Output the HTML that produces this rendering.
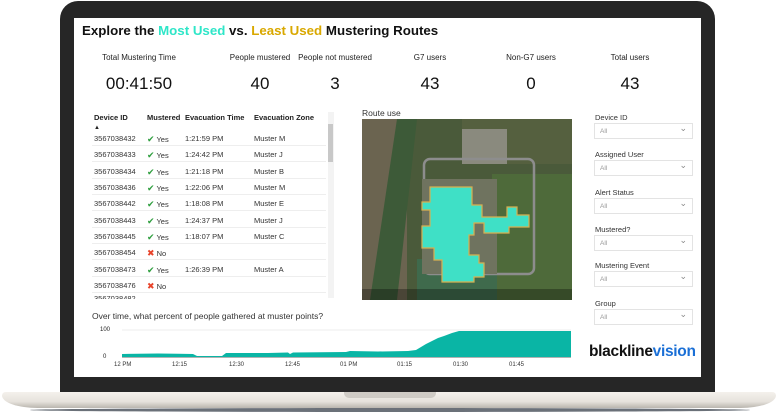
<!DOCTYPE html>
<html><head><meta charset="utf-8"><style>
*{margin:0;padding:0;box-sizing:border-box}
body{width:778px;height:419px;background:#fff;position:relative;overflow:hidden;font-family:"Liberation Sans","DejaVu Sans",sans-serif;color:#222}
.a{position:absolute}
.bez{left:60px;top:1px;width:655px;height:392px;background:#262626;border-radius:18px 18px 0 0}
.scr{left:74px;top:18px;width:627px;height:359px;background:#fff}
.base{left:2px;top:392px;width:774px;height:16px;background:linear-gradient(#f4f1ec,#e6e2dc 60%,#b9b5ae);border-radius:4px 4px 40px 40px/4px 4px 14px 14px}
.notch{left:344px;top:392px;width:92px;height:6px;background:#cfcbc5;border-radius:0 0 5px 5px}
.shadow{left:30px;top:408px;width:720px;height:4px;background:#2c3440;border-radius:50%;opacity:.7}
.t{font-size:13.3px;font-weight:bold;left:82px;top:23px;color:#111}
.kl{font-size:8px;color:#222;text-align:center;width:120px;top:53px}
.kv{font-size:17px;color:#111;text-align:center;width:120px;top:74px}
.tb{font-size:7.5px;color:#333}
.th{font-weight:bold;color:#222}
.row{position:absolute;left:92px;width:234px;height:16px;border-bottom:1px solid #eee}
.row span{position:absolute;top:4px}
.ck{color:#2e9e3e;font-weight:bold;font-size:9px}
.x{color:#e8432a;font-weight:bold;font-size:9px}
.sl{font-size:7.5px;color:#333;left:595px}
.sb{left:594px;width:99px;height:16px;border:1px solid #e3e3e3;font-size:6.5px;color:#999;padding:4px 0 0 5px}
.sb:after{content:"⌄";position:absolute;right:5px;top:-1px;font-size:9px;color:#888}
.xl{font-size:6px;color:#333;top:362px}
</style></head><body>
<div class="a shadow"></div>
<div class="a bez"></div>
<div class="a base"></div>
<div class="a notch"></div>
<div class="a scr"></div>
<div class="a t">Explore the <span style="color:#2ee6c8">Most Used</span> vs. <span style="color:#d9a800">Least Used</span> Mustering Routes</div>
<div class="a kl" style="left:79px">Total Mustering Time</div><div class="a kv" style="left:79px">00:41:50</div>
<div class="a kl" style="left:200px">People mustered</div><div class="a kv" style="left:200px">40</div>
<div class="a kl" style="left:275px">People not mustered</div><div class="a kv" style="left:275px">3</div>
<div class="a kl" style="left:370px">G7 users</div><div class="a kv" style="left:370px">43</div>
<div class="a kl" style="left:471px">Non-G7 users</div><div class="a kv" style="left:471px">0</div>
<div class="a kl" style="left:570px">Total users</div><div class="a kv" style="left:570px">43</div>

<div class="a tb th" style="left:94px;top:113px">Device ID<br><span style="font-size:6px">▲</span></div>
<div class="a tb th" style="left:147px;top:113px">Mustered</div>
<div class="a tb th" style="left:185px;top:113px">Evacuation Time</div>
<div class="a tb th" style="left:254px;top:113px">Evacuation Zone</div>
<div class="tb">
<div class="row" style="top:130px"><span style="left:2px">3567038432</span><span style="left:55px"><b class="ck">✔</b> Yes</span><span style="left:93px">1:21:59 PM</span><span style="left:162px">Muster M</span></div>
<div class="row" style="top:146px"><span style="left:2px">3567038433</span><span style="left:55px"><b class="ck">✔</b> Yes</span><span style="left:93px">1:24:42 PM</span><span style="left:162px">Muster J</span></div>
<div class="row" style="top:163px"><span style="left:2px">3567038434</span><span style="left:55px"><b class="ck">✔</b> Yes</span><span style="left:93px">1:21:18 PM</span><span style="left:162px">Muster B</span></div>
<div class="row" style="top:179px"><span style="left:2px">3567038436</span><span style="left:55px"><b class="ck">✔</b> Yes</span><span style="left:93px">1:22:06 PM</span><span style="left:162px">Muster M</span></div>
<div class="row" style="top:195px"><span style="left:2px">3567038442</span><span style="left:55px"><b class="ck">✔</b> Yes</span><span style="left:93px">1:18:08 PM</span><span style="left:162px">Muster E</span></div>
<div class="row" style="top:212px"><span style="left:2px">3567038443</span><span style="left:55px"><b class="ck">✔</b> Yes</span><span style="left:93px">1:24:37 PM</span><span style="left:162px">Muster J</span></div>
<div class="row" style="top:228px"><span style="left:2px">3567038445</span><span style="left:55px"><b class="ck">✔</b> Yes</span><span style="left:93px">1:18:07 PM</span><span style="left:162px">Muster C</span></div>
<div class="row" style="top:244px"><span style="left:2px">3567038454</span><span style="left:55px"><b class="x">✖</b> No</span></div>
<div class="row" style="top:261px"><span style="left:2px">3567038473</span><span style="left:55px"><b class="ck">✔</b> Yes</span><span style="left:93px">1:26:39 PM</span><span style="left:162px">Muster A</span></div>
<div class="row" style="top:277px"><span style="left:2px">3567038476</span><span style="left:55px"><b class="x">✖</b> No</span></div>
<div class="row" style="top:293px;height:6px;overflow:hidden;border:0"><span style="left:2px;top:1px">3567038482</span></div>
</div>
<div class="a" style="left:328px;top:112px;width:6px;height:186px;background:#f3f3f3"></div>
<div class="a" style="left:328px;top:124px;width:5px;height:38px;background:#c8c8c8"></div>

<div class="a tb" style="left:362px;top:108px;font-size:8.5px">Route use</div>
<svg class="a" style="left:362px;top:119px" width="210" height="181" viewBox="0 0 210 181">
<rect width="210" height="181" fill="#4a5a3a"/>
<rect x="0" y="0" width="45" height="181" fill="#6b6450"/>
<path d="M35 0 L55 0 L35 181 L8 181 Z" fill="#3d5a38"/>
<rect x="100" y="0" width="110" height="45" fill="#55603f"/>
<rect x="100" y="10" width="45" height="35" fill="#8a8a7e"/>
<rect x="130" y="55" width="80" height="126" fill="#4e6a3a"/>
<rect x="55" y="140" width="80" height="41" fill="#3f6a4c"/>
<rect x="62" y="40" width="110" height="115" fill="none" stroke="#8d8d8d" stroke-width="2.5" rx="6"/>
<rect x="60" y="60" width="75" height="95" fill="#6f735f"/>
<g fill="#3fe0c6" stroke="#d8b050" stroke-width="1.2">
<path d="M68 68 h42 v18 h10 v12 h25 v-10 h10 v8 h12 v12 h-20 v6 h-25 v-10 h-10 v12 h-5 v20 h10 v8 h5 v14 h-10 v5 h-32 v-22 h-8 v-12 h-12 v-22 h8 v-16 h-8 v-8 h8 Z"/>
</g>
<rect x="0" y="170" width="210" height="11" fill="rgba(0,0,0,.3)"/>
</svg>

<div class="a sl" style="top:113px">Device ID</div><div class="a sb" style="top:123px">All</div>
<div class="a sl" style="top:150px">Assigned User</div><div class="a sb" style="top:160px">All</div>
<div class="a sl" style="top:188px">Alert Status</div><div class="a sb" style="top:198px">All</div>
<div class="a sl" style="top:225px">Mustered?</div><div class="a sb" style="top:235px">All</div>
<div class="a sl" style="top:261px">Mustering Event</div><div class="a sb" style="top:271px">All</div>
<div class="a sl" style="top:299px">Group</div><div class="a sb" style="top:309px">All</div>

<div class="a tb" style="left:92px;top:311px;font-size:8.5px">Over time, what percent of people gathered at muster points?</div>
<div class="a" style="left:100px;top:327px;font-size:6px">100</div>
<div class="a" style="left:103px;top:354px;font-size:6px">0</div>
<svg class="a" style="left:118px;top:328px" width="460" height="34">
<line x1="4" y1="2" x2="453" y2="2" stroke="#eee"/>
<path d="M4 29 V26 L40 25.5 L60 25.8 L75 26 L79 28 L104 28 L108 25 L150 25 L170 24.5 L172 26 L175 24.5 L228 24 L232 23 L260 23.5 L290 23 L298 22 L303 19 L308 16 L314 13 L320 10 L326 8 L334 5 L341 3 L453 3 V29 Z" fill="#0ab5a5"/>
<line x1="4" y1="29.5" x2="453" y2="29.5" stroke="#999" stroke-width=".8"/>
</svg>
<div class="a xl" style="left:114px">12 PM</div>
<div class="a xl" style="left:172px">12:15</div>
<div class="a xl" style="left:229px">12:30</div>
<div class="a xl" style="left:285px">12:45</div>
<div class="a xl" style="left:340px">01 PM</div>
<div class="a xl" style="left:397px">01:15</div>
<div class="a xl" style="left:453px">01:30</div>
<div class="a xl" style="left:509px">01:45</div>
<div class="a" style="left:589px;top:343px;font-size:15.5px;font-weight:bold;letter-spacing:-.3px;color:#111">blackline<span style="color:#1a6fd6">vision</span></div>
</body></html>
